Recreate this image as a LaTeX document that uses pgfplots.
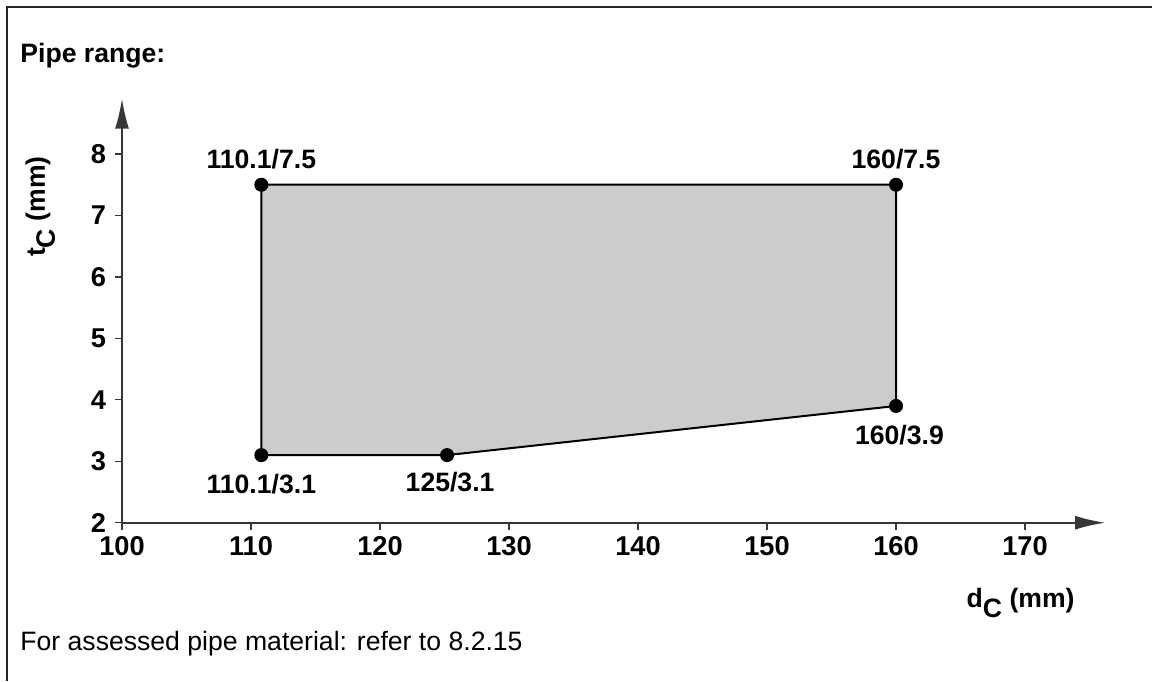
\documentclass[border=0pt]{standalone}
\usepackage{fontspec}
\setmainfont{Liberation Sans}
\usepackage{pgfplots}
\pgfplotsset{compat=1.18}
\usetikzlibrary{arrows.meta}
\definecolor{regiongray}{RGB}{204,204,204}
\definecolor{axisgray}{RGB}{55,55,55}
\begin{document}
\begin{tikzpicture}
\useasboundingbox (0,0) rectangle (576pt,340.5pt);
\draw[line width=0.8pt, black!85] (3.5pt,0) -- (3.5pt,337pt) -- (576pt,337pt);
\node[anchor=base west, inner sep=0, font=\fontsize{13.3}{15}\selectfont\bfseries] at (10pt,309.15pt) {Pipe range:};
\node[anchor=base west, inner sep=0, font=\fontsize{13.3}{15}\selectfont] at (10pt,15.5pt) {For assessed pipe material: refer to 8.2.15};
\node[rotate=90, anchor=base east, inner sep=0, font=\fontsize{13.3}{15}\selectfont\bfseries] at (22.5pt,262.5pt) {t\raisebox{-5pt}{C} (mm)};
\node[anchor=base east, inner sep=0, font=\fontsize{13.3}{15}\selectfont\bfseries] at (537.5pt,37pt) {d\raisebox{-5pt}{C} (mm)};
\begin{axis}[
  at={(61pt,79.15pt)}, anchor=south west,
  scale only axis, width=491.5pt, height=212pt,
  xmin=100, xmax=176.2, ymin=2, ymax=8.9,
  axis lines=left,
  axis line style={line width=0.9pt, axisgray},
  x axis line style={-{Latex[length=15pt,width=7pt]}},
  y axis line style={-{Latex[length=15pt,width=7pt]}},
  xtick={100,110,...,170}, ytick={2,...,8},
  tick align=outside, major tick length=3.5pt,
  tick style={line width=0.6pt, axisgray},
  ticklabel style={font=\fontsize{13.6}{13.6}\selectfont\bfseries},
  yticklabel style={xshift=-1pt},
  /pgf/number format/assume math mode=true,
  clip=false,
]
\addplot[draw=black, line width=1pt, fill=regiongray,
  mark=*, mark size=3pt, mark options={fill=black, draw=black}]
  coordinates {(110.8,7.5) (160,7.5) (160,3.9) (125.2,3.1) (110.8,3.1)} -- cycle;
\begin{scope}[every node/.style={inner sep=0, font=\fontsize{13.3}{13.3}\selectfont\bfseries}]
\node[anchor=base, yshift=8pt] at (axis cs:110.8,7.5) {110.1/7.5};
\node[anchor=base, yshift=8pt] at (axis cs:160,7.5) {160/7.5};
\node[anchor=base, yshift=-19pt] at (axis cs:110.8,3.1) {110.1/3.1};
\node[anchor=base, yshift=-18pt, xshift=1.5pt] at (axis cs:125.2,3.1) {125/3.1};
\node[anchor=base, yshift=-19.5pt, xshift=1.7pt] at (axis cs:160,3.9) {160/3.9};
\end{scope}
\end{axis}
\end{tikzpicture}
\end{document}
